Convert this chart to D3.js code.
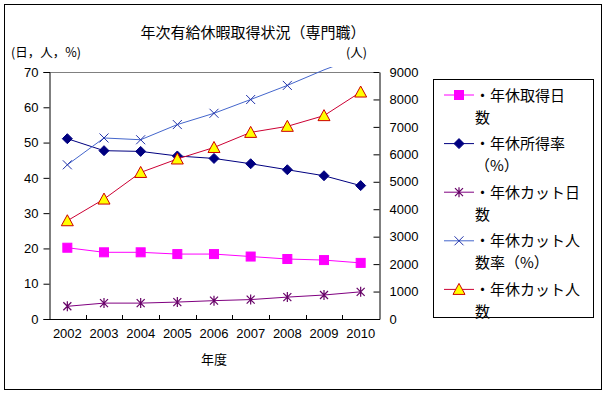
<!DOCTYPE html>
<html>
<head>
<meta charset="utf-8">
<script src="https://cdn.jsdelivr.net/npm/d3@7"></script>
<style>
  body { margin: 0; background: #fff; }
  text { font-family: "Noto Sans CJK JP", sans-serif; }
  .num text, text.num { font-family: "Liberation Sans", Arial, sans-serif; }
</style>
</head>
<body>
<script>
const years = [2002, 2003, 2004, 2005, 2006, 2007, 2008, 2009, 2010];
const takenDays = [20.2, 18.9, 18.9, 18.4, 18.4, 17.7, 17.0, 16.7, 15.9];
const takenRate = [51.1, 47.7, 47.5, 46.2, 45.5, 44.0, 42.3, 40.6, 37.8];
const cutDays = [3.6, 4.5, 4.5, 4.8, 5.2, 5.5, 6.2, 6.8, 7.7];
const cutPeopleRate = [43.7, 51.3, 50.8, 55.1, 58.3, 62.2, 66.2, 70.6, 74.5];
const cutPeople = [3580, 4370, 5340, 5830, 6250, 6800, 7020, 7410, 8270];
const leftTicks = [0, 10, 20, 30, 40, 50, 60, 70];
const rightTicks = [0, 1000, 2000, 3000, 4000, 5000, 6000, 7000, 8000, 9000];

const width = 606;
const height = 394;
const plot = { left: 49, right: 379, top: 72, bottom: 319 };

const svg = d3.select('body')
  .append('svg')
  .attr('width', width)
  .attr('height', height);

// outer chart frame
svg.append('rect')
  .attr('x', 4.5).attr('y', 4.5)
  .attr('width', 597).attr('height', 385)
  .attr('fill', 'white')
  .attr('stroke', 'black');

const x = d3.scaleBand()
  .domain(years)
  .range([plot.left, plot.right]);

const yLeft = d3.scaleLinear()
  .domain([0, 70])
  .range([plot.bottom, plot.top]);

const yRight = d3.scaleLinear()
  .domain([0, 9000])
  .range([plot.bottom, plot.top]);

const cx = d => x(d) + x.bandwidth() / 2;

svg.append('defs').append('clipPath')
  .attr('id', 'clip')
  .append('rect')
  .attr('x', plot.left).attr('y', plot.top - 5)
  .attr('width', plot.right - plot.left)
  .attr('height', plot.bottom - plot.top + 5);

// plot top border (grey)
svg.append('line')
  .attr('x1', plot.left).attr('x2', plot.right)
  .attr('y1', plot.top + 0.5).attr('y2', plot.top + 0.5)
  .attr('stroke', '#808080');

// left axis
svg.append('g')
  .attr('class', 'num')
  .attr('transform', `translate(${plot.left + 0.5}, 0)`)
  .call(d3.axisLeft(yLeft).tickValues(leftTicks).tickSize(6).tickPadding(5))
  .call(g => g.select('.domain').attr('stroke', 'black'))
  .selectAll('text').attr('font-size', 13).attr('fill', 'black');

// right axis, ticks pointing inward
svg.append('g')
  .attr('class', 'num')
  .attr('transform', `translate(${plot.right + 0.5}, 0)`)
  .call(d3.axisRight(yRight).tickValues(rightTicks).tickFormat(d3.format('d'))
    .tickSizeInner(-6).tickSizeOuter(0).tickPadding(10))
  .call(g => g.select('.domain').attr('stroke', 'black'))
  .selectAll('text').attr('font-size', 13).attr('fill', 'black');

// bottom axis: labels at category centres, ticks at category boundaries
const xAxis = svg.append('g')
  .attr('class', 'num')
  .attr('transform', `translate(0, ${plot.bottom + 0.5})`)
  .call(d3.axisBottom(x).tickSize(0).tickPadding(9));
xAxis.select('.domain').remove();
xAxis.selectAll('text').attr('font-size', 13).attr('fill', 'black');
svg.append('line')
  .attr('x1', plot.left).attr('x2', plot.right + 1)
  .attr('y1', plot.bottom + 0.5).attr('y2', plot.bottom + 0.5)
  .attr('stroke', 'black');
svg.selectAll('.xtick')
  .data(years.slice(1))
  .enter()
  .append('line')
  .attr('class', 'xtick')
  .attr('x1', d => Math.round(x(d)) + 0.5)
  .attr('x2', d => Math.round(x(d)) + 0.5)
  .attr('y1', plot.bottom)
  .attr('y2', plot.bottom - 4)
  .attr('stroke', 'black');

// titles
svg.append('text')
  .attr('x', 253).attr('y', 38)
  .attr('text-anchor', 'middle')
  .attr('font-size', 15)
  .text('年次有給休暇取得状況（専門職）');

svg.append('text')
  .attr('x', 11).attr('y', 57)
  .attr('font-size', 12.5)
  .text('(日，人，%)');

svg.append('text')
  .attr('x', 346).attr('y', 57)
  .attr('font-size', 12.5)
  .text('(人)');

svg.append('text')
  .attr('x', 214).attr('y', 364)
  .attr('text-anchor', 'middle')
  .attr('font-size', 13)
  .text('年度');

// marker drawers
function drawMarker(g, type, color, fill) {
  if (type === 'square') {
    g.append('rect').attr('x', -4.5).attr('y', -4.5).attr('width', 9).attr('height', 9)
      .attr('fill', fill).attr('stroke', color);
  } else if (type === 'diamond') {
    g.append('path').attr('d', 'M0,-5L5,0L0,5L-5,0Z').attr('fill', fill).attr('stroke', color);
  } else if (type === 'star') {
    g.append('path').attr('d', 'M-4,-4L4,4M-4,4L4,-4M0,-5L0,5')
      .attr('stroke', color).attr('fill', 'none').attr('stroke-width', 1.2);
  } else if (type === 'x') {
    g.append('path').attr('d', 'M-4.5,-4.5L4.5,4.5M-4.5,4.5L4.5,-4.5')
      .attr('stroke', color).attr('fill', 'none');
  } else if (type === 'triangle') {
    g.append('path').attr('d', 'M0,-6L6,5L-6,5Z').attr('fill', fill).attr('stroke', color);
  }
}

const series = [
  { name: ['・年休取得日', '数'], values: takenDays, scale: yLeft, line: '#ff00ff', marker: 'square', mStroke: '#ff00ff', mFill: '#ff00ff' },
  { name: ['・年休所得率', '（%）'], values: takenRate, scale: yLeft, line: '#000080', marker: 'diamond', mStroke: '#000080', mFill: '#000080' },
  { name: ['・年休カット日', '数'], values: cutDays, scale: yLeft, line: '#800080', marker: 'star', mStroke: '#660066', mFill: 'none' },
  { name: ['・年休カット人', '数率（%）'], values: cutPeopleRate, scale: yLeft, line: '#4466cc', marker: 'x', mStroke: '#2233aa', mFill: 'none' },
  { name: ['・年休カット人', '数'], values: cutPeople, scale: yRight, line: '#cc0033', marker: 'triangle', mStroke: '#cc0000', mFill: '#ffff00' }
];

const chart = svg.append('g');

series.forEach(s => {
  const pts = years.map((yr, i) => ({ yr, v: s.values[i] }));
  const line = d3.line()
    .x(d => cx(d.yr))
    .y(d => s.scale(d.v));
  chart.append('path')
    .datum(pts)
    .attr('d', line)
    .attr('fill', 'none')
    .attr('stroke', s.line)
    .attr('stroke-width', 1)
    .attr('clip-path', 'url(#clip)');
  const max = s.scale.domain()[1];
  pts.filter(d => d.v <= max).forEach(d => {
    const g = chart.append('g')
      .attr('transform', `translate(${cx(d.yr)}, ${s.scale(d.v)})`);
    drawMarker(g, s.marker, s.mStroke, s.mFill);
  });
});

// legend
const legend = svg.append('g').attr('id', 'legend');
legend.append('rect')
  .attr('x', 433.5).attr('y', 79.5)
  .attr('width', 160).attr('height', 238)
  .attr('fill', 'white')
  .attr('stroke', 'black');

series.forEach((s, i) => {
  const yy = 95 + i * 48.6;
  legend.append('line')
    .attr('x1', 444).attr('x2', 474)
    .attr('y1', yy).attr('y2', yy)
    .attr('stroke', s.line);
  const g = legend.append('g').attr('transform', `translate(459, ${yy})`);
  drawMarker(g, s.marker, s.mStroke, s.mFill);
  // two-line wrapped label
  legend.append('text')
    .attr('x', 475).attr('y', yy + 5.5)
    .attr('font-size', 15)
    .text(s.name[0]);
  legend.append('text')
    .attr('x', 475).attr('y', yy + 27.5)
    .attr('font-size', 15)
    .text(s.name[1]);
});
</script>
</body>
</html>
